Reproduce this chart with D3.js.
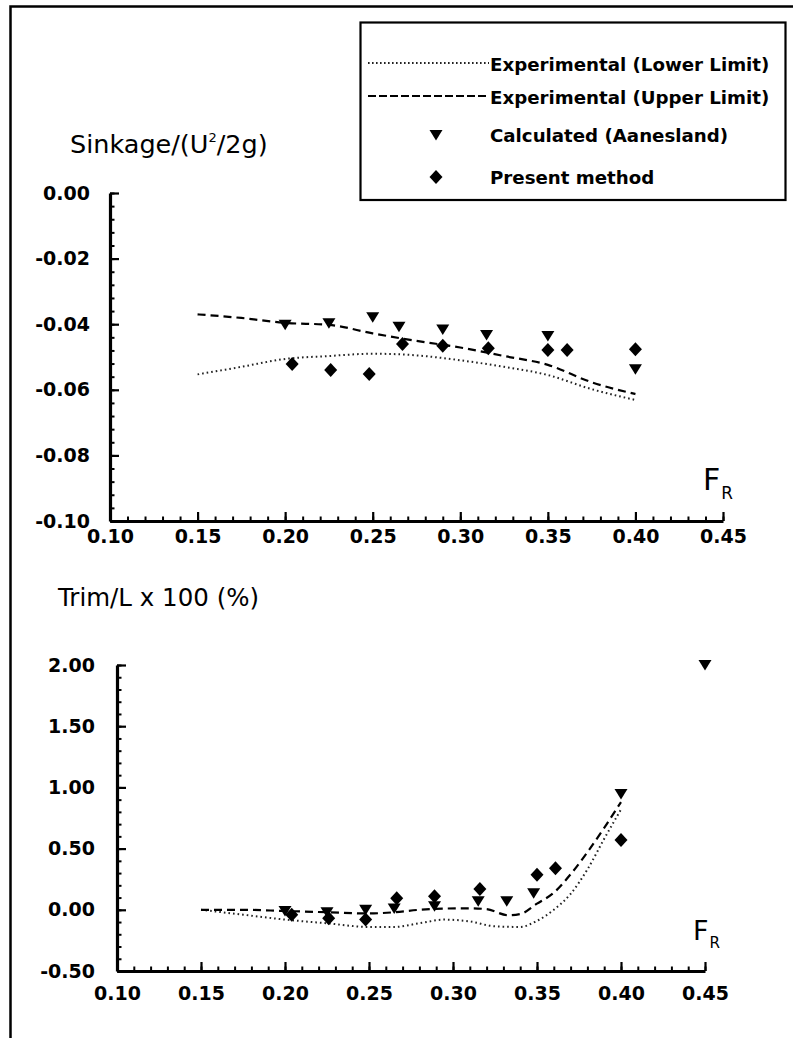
<!DOCTYPE html>
<html>
<head>
<meta charset="utf-8">
<script src="https://cdn.jsdelivr.net/npm/d3@7"></script>
<style>
body { margin: 0; background: #fff; }
svg text { font-family: "DejaVu Sans", sans-serif; fill: #000; }
</style>
</head>
<body>
<script>
//sinkage and trim against Froude number

var w = 793;
var h = 1038;

// top panel: sinkage/(U^2/2g)
var sinkLowerF = [0.15, 0.175, 0.20, 0.225, 0.25, 0.275, 0.30, 0.325, 0.35, 0.375, 0.40];
var sinkLower = [-0.0553, -0.0530, -0.0506, -0.0497, -0.0490, -0.0495, -0.0510, -0.0530, -0.0555, -0.0598, -0.0631];
var sinkUpperF = [0.15, 0.175, 0.20, 0.225, 0.25, 0.275, 0.30, 0.325, 0.35, 0.375, 0.40];
var sinkUpper = [-0.0370, -0.0381, -0.0396, -0.0402, -0.0428, -0.0451, -0.0471, -0.0497, -0.0524, -0.0577, -0.0613];
var sinkCalcF = [0.20, 0.225, 0.25, 0.265, 0.29, 0.315, 0.35, 0.40];
var sinkCalc = [-0.0402, -0.0397, -0.0379, -0.0408, -0.0416, -0.0433, -0.0436, -0.0537];
var sinkPresF = [0.204, 0.226, 0.248, 0.267, 0.29, 0.316, 0.35, 0.361, 0.40];
var sinkPres = [-0.0521, -0.0540, -0.0552, -0.0460, -0.0466, -0.0473, -0.0479, -0.0479, -0.0476];

// bottom panel: trim/L x 100 (%)
var trimLowerF = [0.15, 0.175, 0.20, 0.225, 0.25, 0.265, 0.28, 0.295, 0.31, 0.325, 0.34, 0.35, 0.36, 0.37, 0.38, 0.39, 0.40];
var trimLower = [0.0, -0.04, -0.08, -0.11, -0.14, -0.14, -0.11, -0.08, -0.095, -0.135, -0.14, -0.09, 0.0, 0.13, 0.33, 0.58, 0.82];
var trimUpperF = [0.15, 0.175, 0.20, 0.225, 0.25, 0.265, 0.28, 0.295, 0.31, 0.32, 0.333, 0.34, 0.35, 0.36, 0.37, 0.38, 0.39, 0.40];
var trimUpper = [0.0, 0.0, -0.01, -0.02, -0.03, -0.02, 0.0, 0.01, 0.012, 0.005, -0.045, -0.035, 0.05, 0.14, 0.29, 0.47, 0.67, 0.88];
var trimCalcF = [0.20, 0.225, 0.248, 0.265, 0.289, 0.315, 0.332, 0.348, 0.40, 0.45];
var trimCalc = [-0.01, -0.02, 0.0, 0.01, 0.03, 0.07, 0.07, 0.136, 0.946, 2.0];
var trimPresF = [0.204, 0.226, 0.248, 0.2665, 0.289, 0.316, 0.35, 0.361, 0.40];
var trimPres = [-0.04, -0.07, -0.08, 0.095, 0.11, 0.17, 0.286, 0.34, 0.57];

var xTicks = [0.10, 0.15, 0.20, 0.25, 0.30, 0.35, 0.40, 0.45];
var sinkTicks = [0.00, -0.02, -0.04, -0.06, -0.08, -0.10];
var trimTicks = [2.00, 1.50, 1.00, 0.50, 0.00, -0.50];

var legendLabels = ["Experimental (Lower Limit)", "Experimental (Upper Limit)", "Calculated (Aanesland)", "Present method"];

var triPath = "M-6.5,-5L6.5,-5L0,5.5Z";
var diaPath = "M0,-7L6.5,0L0,7L-6.5,0Z";

var svg = d3.select("body")
    .append("svg")
    .attr("width", w)
    .attr("height", h);

svg.append("rect").attr("width", w).attr("height", h).attr("fill", "#fff");

// page frame (top and left only)
svg.append("path")
    .attr("d", "M793,6.5H10.5V1038")
    .attr("fill", "none")
    .attr("stroke", "#000")
    .attr("stroke-width", 2.5);

var panel = function(o) {
    var x = d3.scaleLinear().domain([0.10, 0.45]).range([o.left, o.right]);
    var y = d3.scaleLinear().domain(o.ydom).range([o.bottom, o.top]);
    var g = svg.append("g");

    // minor ticks
    g.append("g")
        .attr("transform", "translate(0," + o.bottom + ")")
        .call(d3.axisBottom(x).tickValues(d3.range(10, 46).map(function(d) { return d / 100; }))
            .tickSize(-4.5).tickSizeOuter(0).tickFormat(""))
        .call(function(a) { a.select(".domain").remove(); a.selectAll("line").attr("stroke-width", 2); });
    g.append("g")
        .attr("transform", "translate(" + o.left + ",0)")
        .call(d3.axisLeft(y).tickValues(o.minor).tickSize(-4.5).tickSizeOuter(0).tickFormat(""))
        .call(function(a) { a.select(".domain").remove(); a.selectAll("line").attr("stroke-width", 2); });

    // major ticks + labels
    var xa = g.append("g")
        .attr("transform", "translate(0," + o.bottom + ")")
        .call(d3.axisBottom(x).tickValues(xTicks).tickSize(-9).tickSizeOuter(0).tickPadding(o.xpad)
            .tickFormat(d3.format(".2f")));
    var ya = g.append("g")
        .attr("transform", "translate(" + o.left + ",0)")
        .call(d3.axisLeft(y).tickValues(o.yticks).tickSize(-9).tickSizeOuter(0).tickPadding(o.ypad)
            .tickFormat(d3.format(".2f")));
    [xa, ya].forEach(function(a) {
        a.select(".domain").attr("stroke-width", 3.2);
        a.selectAll("line").attr("stroke-width", 2.2);
        a.selectAll("text")
            .attr("font-family", "DejaVu Sans")
            .attr("font-weight", "bold")
            .attr("font-size", 19)
            .attr("fill", "#000");
    });
    ya.selectAll("text").text(function(d) { return d3.format(".2f")(d).replace("−", "-"); });
    xa.selectAll("text").text(function(d) { return d3.format(".2f")(d); });

    var line = d3.line()
        .x(function(d) { return x(d[0]); })
        .y(function(d) { return y(d[1]); })
        .curve(d3.curveMonotoneX);

    g.append("path")
        .datum(d3.zip(o.lowF, o.low))
        .attr("d", line)
        .attr("fill", "none")
        .attr("stroke", "#222")
        .attr("stroke-width", 2)
        .attr("stroke-dasharray", "1.6,3");
    g.append("path")
        .datum(d3.zip(o.upF, o.up))
        .attr("d", line)
        .attr("fill", "none")
        .attr("stroke", "#000")
        .attr("stroke-width", 2.2)
        .attr("stroke-dasharray", "8,5");

    g.selectAll(".tri")
        .data(d3.zip(o.calcF, o.calc))
        .enter()
        .append("path")
        .attr("class", "tri")
        .attr("d", triPath)
        .attr("transform", function(d) { return "translate(" + x(d[0]) + "," + y(d[1]) + ")"; });
    g.selectAll(".dia")
        .data(d3.zip(o.presF, o.pres))
        .enter()
        .append("path")
        .attr("class", "dia")
        .attr("d", diaPath)
        .attr("transform", function(d) { return "translate(" + x(d[0]) + "," + y(d[1]) + ")"; });

    // F_R label
    var fr = g.append("text")
        .attr("x", o.frx)
        .attr("y", o.fry)
        .attr("font-size", o.frsize);
    fr.append("tspan").text("F");
    fr.append("tspan").attr("dx", 1).attr("dy", o.frsize * 0.3).attr("font-size", o.frsize * 0.56).text("R");
};

panel({
    left: 110, right: 723, top: 193, bottom: 521,
    ydom: [-0.10, 0.00], yticks: sinkTicks, minor: d3.range(-25, 1).map(function(d) { return d * 0.004; }),
    xpad: 9, ypad: 20,
    lowF: sinkLowerF, low: sinkLower, upF: sinkUpperF, up: sinkUpper,
    calcF: sinkCalcF, calc: sinkCalc, presF: sinkPresF, pres: sinkPres,
    frx: 703, fry: 490, frsize: 30
});

panel({
    left: 117, right: 705, top: 665, bottom: 971,
    ydom: [-0.50, 2.00], yticks: trimTicks, minor: d3.range(-5, 21).map(function(d) { return d / 10; }),
    xpad: 16, ypad: 22,
    lowF: trimLowerF, low: trimLower, upF: trimUpperF, up: trimUpper,
    calcF: trimCalcF, calc: trimCalc, presF: trimPresF, pres: trimPres,
    frx: 693, fry: 940, frsize: 27
});

// axis titles
var t1 = svg.append("text")
    .attr("x", 70)
    .attr("y", 153)
    .attr("font-size", 25.5);
t1.append("tspan").text("Sinkage/(U");
t1.append("tspan").attr("dy", -11).attr("font-size", 13).text("2");
t1.append("tspan").attr("dy", 11).text("/2g)");

svg.append("text")
    .attr("x", 58)
    .attr("y", 606)
    .attr("font-size", 24.5)
    .text("Trim/L x 100 (%)");

// legend
var lg = svg.append("g");
lg.append("rect")
    .attr("x", 360.5)
    .attr("y", 22.5)
    .attr("width", 425)
    .attr("height", 177.5)
    .attr("fill", "#fff")
    .attr("stroke", "#000")
    .attr("stroke-width", 2.2);

lg.append("line")
    .attr("x1", 368).attr("x2", 489).attr("y1", 63).attr("y2", 63)
    .attr("stroke", "#222").attr("stroke-width", 1.8).attr("stroke-dasharray", "1.6,2.4");
lg.append("line")
    .attr("x1", 368).attr("x2", 489).attr("y1", 96).attr("y2", 96)
    .attr("stroke", "#000").attr("stroke-width", 1.8).attr("stroke-dasharray", "8,3");
lg.append("path").attr("d", triPath).attr("transform", "translate(436,135)");
lg.append("path").attr("d", diaPath).attr("transform", "translate(436,177)");

lg.selectAll(".lgtext")
    .data(legendLabels)
    .enter()
    .append("text")
    .attr("class", "lgtext")
    .attr("x", 490)
    .attr("y", function(d, i) { return [71, 104, 142, 184][i]; })
    .attr("font-size", 18.2)
    .attr("font-weight", "bold")
    .text(function(d) { return d; });
</script>
</body>
</html>
